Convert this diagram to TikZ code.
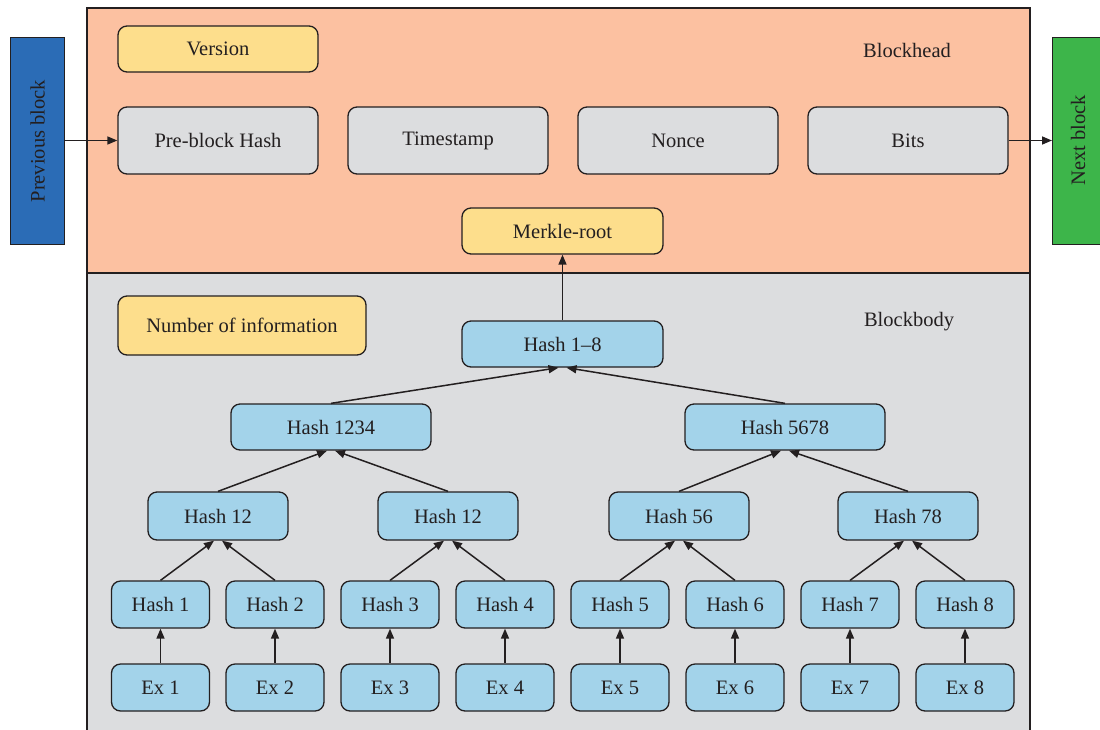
\documentclass[tikz,border=0pt]{standalone}
\usepackage{fontspec}
\setmainfont{Liberation Serif}
\usetikzlibrary{arrows.meta}
\definecolor{ink}{HTML}{231F20}
\definecolor{headbg}{HTML}{FCC1A1}
\definecolor{bodybg}{HTML}{DCDDDF}
\definecolor{yel}{HTML}{FDDE8C}
\definecolor{gry}{HTML}{DCDDDF}
\definecolor{blu}{HTML}{A3D3EA}
\definecolor{prevc}{HTML}{2B6CB6}
\definecolor{nextc}{HTML}{3DB54A}
\tikzset{
  base/.style={draw=ink, line width=1.3pt, rounded corners=9pt, text=ink, font=\fontsize{20.5}{24}\selectfont, inner sep=0pt},
  yelbox/.style={base, fill=yel},
  grybox/.style={base, fill=gry},
  blubox/.style={base, fill=blu},
  sidebox/.style={draw=ink, line width=1.3pt, text=ink, font=\fontsize{20.5}{24}\selectfont},
  arr/.style={draw=ink, line width=1.5pt, -{Triangle[length=10pt,width=8pt]}},
  lbl/.style={text=ink, font=\fontsize{20.5}{24}\selectfont}
}
\begin{document}
\begin{tikzpicture}[x=1pt,y=-1pt]
\useasboundingbox (0,0) rectangle (1100,729);
% panels
\fill[white] (0,0) rectangle (1100,729);
\filldraw[fill=headbg, draw=ink, line width=1.3pt] (87,8) rectangle (1030,273);
\filldraw[fill=bodybg, draw=ink, line width=1.3pt] (87,273) rectangle (1030,740);
% side blocks
\node[sidebox, fill=prevc, minimum width=54pt, minimum height=207pt, anchor=north west] (prev) at (10,37) {};
\node[lbl, rotate=90] at (prev.center) {Previous block};
\node[sidebox, fill=nextc, minimum width=60pt, minimum height=207pt, anchor=north west] (next) at (1052,37) {};
\node[lbl, rotate=90] at (1078,140.5) {Next block};
% labels
\node[lbl] (bh) at (907,50) {Blockhead};
\node[lbl] (bb) at (909,322) {Blockbody};
% header boxes
\node[yelbox, minimum width=200pt, minimum height=46pt] (ver) at (218,49) {Version};
\node[grybox, minimum width=200pt, minimum height=67pt] (pbh) at (218,140.5) {Pre-block Hash};
\node[grybox, minimum width=200pt, minimum height=67pt] (ts) at (448,140.5) {Timestamp};
\node[grybox, minimum width=200pt, minimum height=67pt] (nonce) at (678,140.5) {Nonce};
\node[grybox, minimum width=200pt, minimum height=67pt] (bits) at (908,140.5) {Bits};
\node[yelbox, minimum width=201pt, minimum height=46pt] (mr) at (562.5,231) {Merkle-root};
% body boxes
\node[yelbox, minimum width=248pt, minimum height=59pt] (noi) at (242,325.5) {Number of information};
\node[blubox, minimum width=201pt, minimum height=46pt] (h18) at (562.5,344) {Hash 1--8};
\node[blubox, minimum width=200pt, minimum height=46pt] (h1234) at (331,427) {Hash 1234};
\node[blubox, minimum width=200pt, minimum height=46pt] (h5678) at (785,427) {Hash 5678};
\node[blubox, minimum width=140pt, minimum height=48pt] (h12) at (218,516) {Hash 12};
\node[blubox, minimum width=140pt, minimum height=48pt] (h34) at (448,516) {Hash 12};
\node[blubox, minimum width=140pt, minimum height=48pt] (h56) at (679,516) {Hash 56};
\node[blubox, minimum width=140pt, minimum height=48pt] (h78) at (908,516) {Hash 78};
\foreach \i/\x in {1/160.5,2/275,3/390,4/505,5/620,6/735,7/850,8/965}{
  \node[blubox, minimum width=98pt, minimum height=47pt] (h\i) at (\x,604.5) {Hash \i};
  \node[blubox, minimum width=98pt, minimum height=47pt] (e\i) at (\x,687.5) {Ex \i};
  \draw[arr] (e\i.north) -- (h\i.south);
}
% connectors
\draw[arr] (prev.east |- pbh.west) -- (pbh.west);
\draw[arr] (bits.east) -- (bits.east -| next.west);
\draw[arr] (h18.north) -- (mr.south);
\draw[arr] (h1234.north) -- ([xshift=-4pt]h18.south);
\draw[arr] (h5678.north) -- ([xshift=4pt]h18.south);
\draw[arr] (h12.north) -- ([xshift=-4pt]h1234.south);
\draw[arr] (h34.north) -- ([xshift=4pt]h1234.south);
\draw[arr] (h56.north) -- ([xshift=-4pt]h5678.south);
\draw[arr] (h78.north) -- ([xshift=4pt]h5678.south);
\draw[arr] (h1.north) -- ([xshift=-4pt]h12.south);
\draw[arr] (h2.north) -- ([xshift=4pt]h12.south);
\draw[arr] (h3.north) -- ([xshift=-4pt]h34.south);
\draw[arr] (h4.north) -- ([xshift=4pt]h34.south);
\draw[arr] (h5.north) -- ([xshift=-4pt]h56.south);
\draw[arr] (h6.north) -- ([xshift=4pt]h56.south);
\draw[arr] (h7.north) -- ([xshift=-4pt]h78.south);
\draw[arr] (h8.north) -- ([xshift=4pt]h78.south);
\end{tikzpicture}
\end{document}
